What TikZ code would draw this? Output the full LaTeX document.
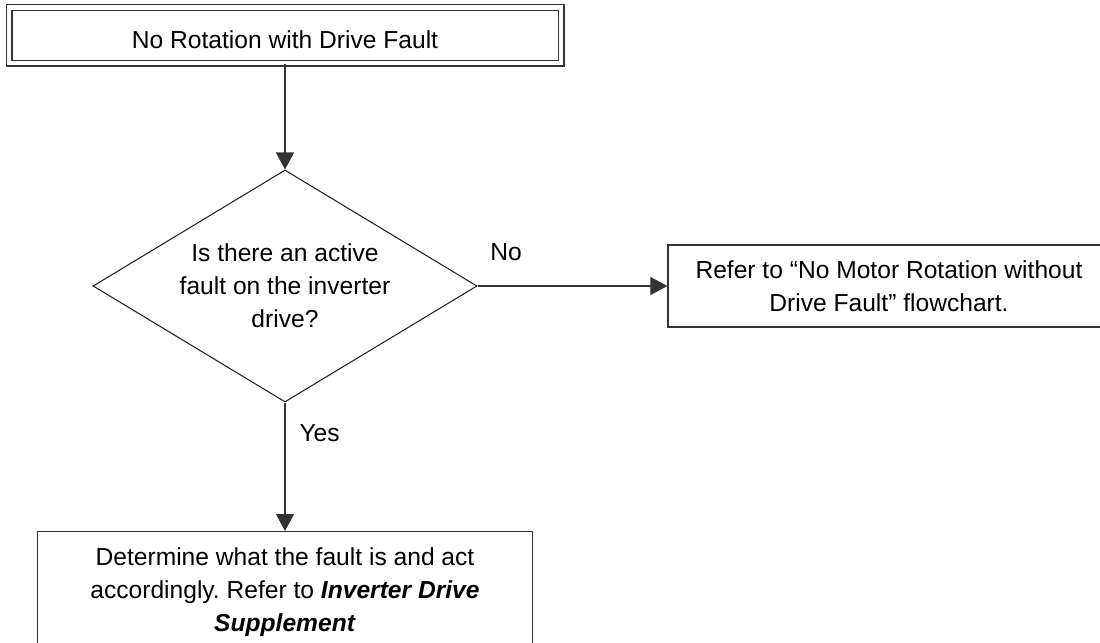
\documentclass[tikz,border=0pt]{standalone}
\usepackage{fontspec}
\setmainfont{Liberation Sans}
\usetikzlibrary{arrows.meta, shapes.geometric}
\frenchspacing

\begin{document}
\begin{tikzpicture}[x=0.5pt, y=-0.5pt, font=\fontsize{12.3}{16.5}\selectfont,
    box/.style={draw=black!80, line width=0.65pt, align=center, inner sep=0pt},
    title/.style={box, double, double distance=2.2pt, minimum width=276pt, minimum height=27.85pt, text height=13.5pt, text depth=0pt},
    decision/.style={diamond, aspect=1.66, draw=black!90, line width=0.5pt, align=center, inner sep=0pt, minimum width=192pt, minimum height=116pt},
    arr/.style={-{Triangle[length=8.5pt, width=9pt]}, draw=black!80, line width=0.55pt},
    lbl/.style={inner sep=0pt}]
  \useasboundingbox (0,0) rectangle (1100,643);
  \clip (0,0) rectangle (1100,643);
  \node[title] (start) at (285,35.3) {No Rotation with Drive Fault};
  \node[decision] (fault) at (285,286) {Is there an active\\fault on the inverter\\drive?};
  \node[box, minimum width=221pt, minimum height=41pt] (other) at (889,286) {Refer to “No Motor Rotation without\\Drive Fault” flowchart.};
  \node[box, anchor=north, minimum width=247.5pt, inner ysep=8pt] (act) at (285,531) {Determine what the fault is and act\\accordingly. Refer to \textbf{\textit{Inverter Drive}}\\\textbf{\textit{Supplement}}};
  \draw[arr] (start) -- (fault);
  \draw[arr] (fault) -- node[lbl, pos=0.15, above=12.5pt] {No} (other);
  \draw[arr] (fault) -- node[lbl, pos=0.24, right=7pt] {Yes} (act);
\end{tikzpicture}
\end{document}
